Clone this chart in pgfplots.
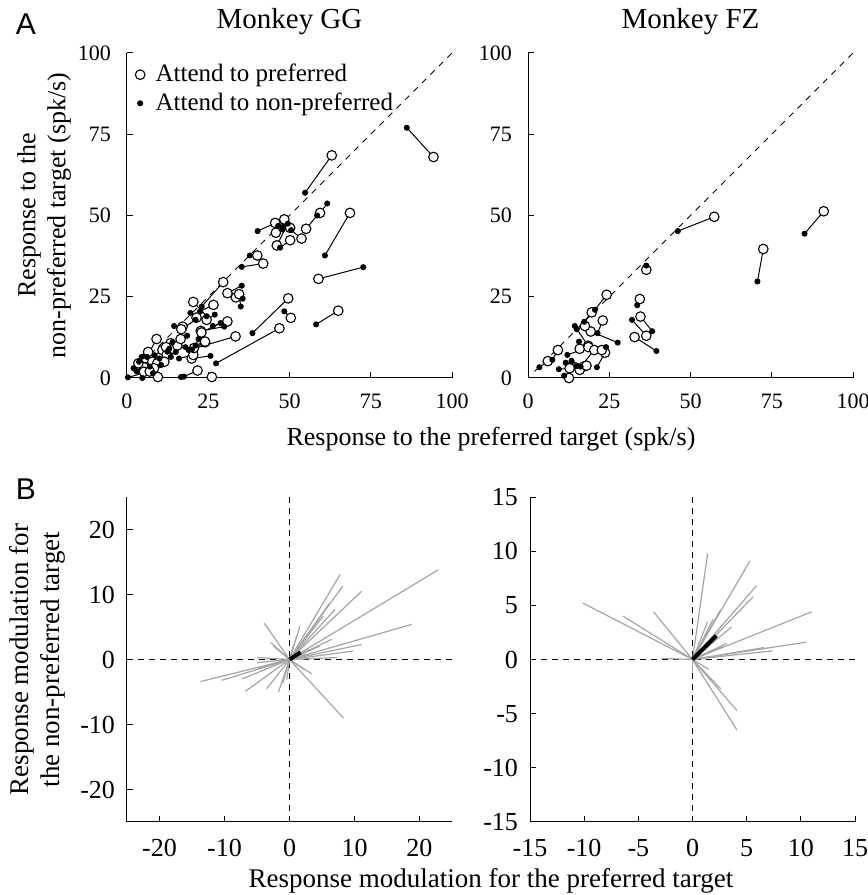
\documentclass[border=0pt]{standalone}
\usepackage{pgfplots}
\pgfplotsset{compat=1.18}
\usepackage{pgfplotstable}
\usepackage{fontspec}
\setmainfont{Liberation Serif}
\newfontfamily\arial{Liberation Sans}
\definecolor{lg}{RGB}{165,165,165}

\pgfplotstableread{
xo yo xf yf
94.3 68.0 86.1 77.0
63.0 68.5 54.8 57.0
68.6 50.8 60.9 37.7
59.4 50.8 61.6 53.7
55.1 45.9 58.5 50.0
58.9 30.5 72.7 34.1
65.0 20.7 58.2 16.5
49.6 24.5 38.6 13.8
50.4 18.5 48.4 20.5
46.9 15.3 27.4 4.5
26.1 0.3 16.6 0.3
21.7 2.3 17.5 0.4
19.9 6.0 25.7 6.8
33.4 12.8 19.0 8.6
24.0 11.0 20.0 8.8
29.6 29.5 23.0 22.0
30.9 26.1 35.3 28.4
33.5 24.8 35.6 24.4
34.5 25.8 35.0 22.0
20.4 23.4 24.5 19.0
26.6 22.5 22.5 20.5
30.9 17.4 26.4 16.0
22.7 14.5 29.9 15.8
17.1 15.8 14.5 16.0
9.1 12.0 6.1 6.5
41.9 35.2 35.3 34.2
40.1 37.7 37.8 37.7
46.1 40.8 49.5 47.5
50.2 42.4 47.1 40.1
53.7 42.9 50.5 45.5
45.6 47.7 40.2 45.2
48.4 48.8 47.9 45.7
50.2 46.2 46.5 46.8
45.8 44.7 48.0 46.5
13.4 10.7 12.4 8.1
14.3 8.9 18.0 9.5
10.9 8.6 8.5 7.0
12.2 7.1 15.0 8.0
5.7 6.1 3.7 5.0
7.8 5.0 10.0 6.0
9.3 4.5 7.0 3.5
5.2 3.3 3.0 2.0
8.3 3.0 10.5 4.0
5.2 1.9 4.7 0.0
9.5 0.3 8.0 1.5
20.4 7.1 16.0 6.0
24.0 11.2 21.1 10.0
20.6 9.2 22.0 12.0
7.0 2.0 0.3 0.2
16.7 15.0 21.1 17.9
22.9 14.0 28.8 16.9
12.0 9.5 14.0 11.0
15.5 10.0 13.0 9.0
3.5 4.5 2.0 3.0
11.5 5.0 13.5 6.5
6.5 8.0 4.5 6.5
21.4 18.6 19.5 20.0
24.5 17.9 27.0 19.5
16.5 12.0 18.5 13.0
}\GG

\pgfplotstableread{
xo yo xf yf
91.0 51.3 85.1 44.4
72.4 39.7 70.6 29.7
57.3 49.6 46.1 45.2
36.4 33.3 36.4 34.6
34.4 24.3 33.6 22.4
34.6 18.9 38.2 14.4
36.4 13.0 32.0 17.9
32.8 12.6 39.5 8.3
24.2 25.6 20.6 21.0
19.6 20.2 17.3 17.3
23.0 17.7 21.4 13.8
19.3 14.3 27.6 10.9
17.5 16.0 15.0 15.0
18.5 9.9 14.4 16.0
15.9 9.0 15.7 11.2
9.2 8.6 7.5 5.6
6.1 5.2 3.5 3.3
18.6 9.5 12.1 7.1
20.4 8.6 16.2 3.5
23.7 7.8 21.2 3.3
22.7 8.6 24.0 9.5
17.1 3.5 13.4 5.3
12.8 3.0 9.5 2.7
15.9 2.5 15.0 3.7
12.6 0.0 11.1 0.7
18.0 3.8 11.6 4.7
}\FZ

\pgfplotstableread{
x y u v
0 0 22.9 13.8
0 0 18.8 5.4
0 0 7.8 13.1
0 0 8.2 11.3
0 0 11.1 10.5
0 0 7.0 7.7
0 0 6.2 8.7
0 0 5.2 6.7
0 0 11.1 2.3
0 0 9.8 1.3
0 0 6.5 3.1
0 0 4.7 2.1
0 0 7.3 0.3
0 0 1.6 5.1
0 0 1.1 3.6
0 0 0.6 2.1
0 0 -3.9 5.6
0 0 -2.9 2.6
0 0 -2.5 2.1
0 0 -5.0 0.3
0 0 -13.7 -3.4
0 0 -10.4 -3.2
0 0 -7.3 -3.0
0 0 -6.8 -4.9
0 0 -3.5 -4.5
0 0 -1.7 -5.0
0 0 -1.0 -3.6
0 0 -5.0 -0.5
0 0 -4.8 -1.3
0 0 8.3 -9.0
0 0 3.4 -2.2
0 0 2.2 -1.5
0 0 -0.4 -3.1
0 0 3.0 1.5
0 0 2.5 0.8
}\BGG

\pgfplotstableread{
x y u v
0 0 1.4 9.8
0 0 5.3 9.1
0 0 5.9 6.8
0 0 5.6 5.8
0 0 11.0 4.4
0 0 10.5 1.6
0 0 7.4 0.8
0 0 6.6 1.1
0 0 2.6 4.6
0 0 1.4 3.5
0 0 3.6 3.0
0 0 3.2 1.5
0 0 1.9 3.7
0 0 -10.1 5.2
0 0 -6.4 4.0
0 0 -3.6 4.4
0 0 -2.8 0.1
0 0 4.1 -4.7
0 0 4.1 -6.5
0 0 2.6 -2.7
0 0 1.5 -0.9
0 0 0.0 -1.2
0 0 2.8 1.2
}\BFZ

\pgfplotsset{
  base/.style={
    scale only axis, width=162.5pt, height=162.5pt,
    anchor=south west,
    axis x line*=bottom, axis y line*=left,
    axis line style={-, line width=0.5pt},
    tick align=inside, major tick length=3pt,
    tick style={black, line width=0.5pt},
    /pgf/number format/assume math mode=true,
    clip=false,
  },
  toppanel/.style={
    base, xmin=0, xmax=100, ymin=0, ymax=100,
    xtick={0,25,50,75,100}, ytick={0,25,50,75,100},
    ticklabel style={font=\fontsize{11}{13}\selectfont},
    yticklabel style={xshift=-4.5pt},
    xticklabel style={yshift=-4.5pt},
    title style={font=\fontsize{14.5}{16}\selectfont, at={(0.5,1)}, anchor=base, yshift=6pt},
  },
  botpanel/.style={
    base,
    ticklabel style={font=\fontsize{13}{15}\selectfont},
    yticklabel style={xshift=-2.5pt},
    xticklabel style={yshift=-5pt},
  },
  pairline/.style={black, line width=0.5pt, forget plot},
  openmk/.style={only marks, mark=*, mark size=2.4pt, mark options={fill=white, draw=black, line width=0.55pt}},
  fillmk/.style={only marks, mark=*, mark size=1.3pt, mark options={fill=black, draw=black}},
  diag/.style={black, line width=0.5pt, dash pattern=on 3pt off 3pt, forget plot},
  zline/.style={black, line width=0.5pt, dash pattern=on 3pt off 2.5pt},
}

\begin{document}
\begin{tikzpicture}
\useasboundingbox (0,0) rectangle (434pt,447.5pt);

% Top-left: Monkey GG
\begin{axis}[toppanel, at={(63.5pt,258.5pt)}, title={Monkey GG},
  ylabel={Response to the\\non-preferred target (spk/s)},
  ylabel style={align=center, font=\fontsize{13}{15}\selectfont, at={(axis description cs:-0.255,0.5)}, anchor=center},
  legend style={draw=none, fill=none, at={(axis description cs:0.0,1.0)}, anchor=north west,
    xshift=3pt, yshift=-2.5pt,
    font=\fontsize{12.5}{14}\selectfont, legend cell align=left, row sep=0pt, inner sep=1pt},
  legend image code/.code={\draw[#1] plot coordinates {(0.1cm,0cm)}; \path (0.1cm+5.5pt,0cm);},
]
\addplot[diag] coordinates {(2,2) (100,100)};
\addplot[pairline, quiver={u=\thisrow{xf}-\thisrow{xo}, v=\thisrow{yf}-\thisrow{yo}}] table[x=xo, y=yo] {\GG};
\addplot[openmk] table[x=xo, y=yo] {\GG};
\addlegendentry{Attend to preferred}
\addplot[fillmk] table[x=xf, y=yf] {\GG};
\addlegendentry{Attend to non-preferred}
\end{axis}

% Top-right: Monkey FZ
\begin{axis}[toppanel, at={(264pt,258.5pt)}, title={Monkey FZ}]
\addplot[diag] coordinates {(2,2) (100,100)};
\addplot[pairline, quiver={u=\thisrow{xf}-\thisrow{xo}, v=\thisrow{yf}-\thisrow{yo}}] table[x=xo, y=yo] {\FZ};
\addplot[openmk] table[x=xo, y=yo] {\FZ};
\addplot[fillmk] table[x=xf, y=yf] {\FZ};
\end{axis}

% Bottom-left
\begin{axis}[botpanel, at={(63.5pt,36.5pt)},
  xmin=-25, xmax=25, ymin=-25, ymax=25,
  xtick={-20,-10,0,10,20}, ytick={-20,-10,0,10,20},
  ylabel={Response modulation for\\the non-preferred target},
  ylabel style={align=center, font=\fontsize{13.5}{15.5}\selectfont, at={(axis description cs:-0.275,0.5)}, anchor=center},
]
\addplot[zline] coordinates {(-25,0) (25,0)};
\addplot[zline] coordinates {(0,-25) (0,25)};
\addplot[lg, line width=0.6pt, quiver={u=\thisrow{u}, v=\thisrow{v}}] table[x=x, y=y] {\BGG};
\addplot[black, line width=2pt] coordinates {(0,0) (1.7,1.1)};
\end{axis}

% Bottom-right
\begin{axis}[botpanel, at={(265pt,36.5pt)},
  xmin=-15, xmax=15, ymin=-15, ymax=15,
  xtick={-15,-10,-5,0,5,10,15}, ytick={-15,-10,-5,0,5,10,15},
]
\addplot[zline] coordinates {(-15,0) (15,0)};
\addplot[zline] coordinates {(0,-15) (0,15)};
\addplot[lg, line width=0.6pt, quiver={u=\thisrow{u}, v=\thisrow{v}}] table[x=x, y=y] {\BFZ};
\addplot[black, line width=2pt] coordinates {(0,0) (2.2,2.2)};
\end{axis}

\node[font=\arial\fontsize{15}{17}\selectfont] at (13pt,435.5pt) {A};
\node[font=\arial\fontsize{15}{17}\selectfont] at (13pt,203pt) {B};
\node[font=\fontsize{13}{15}\selectfont, anchor=base] at (245.5pt,224.5pt) {Response to the preferred target (spk/s)};
\node[font=\fontsize{13.5}{15}\selectfont, anchor=base] at (245.5pt,3.8pt) {Response modulation for the preferred target};
\end{tikzpicture}
\end{document}
